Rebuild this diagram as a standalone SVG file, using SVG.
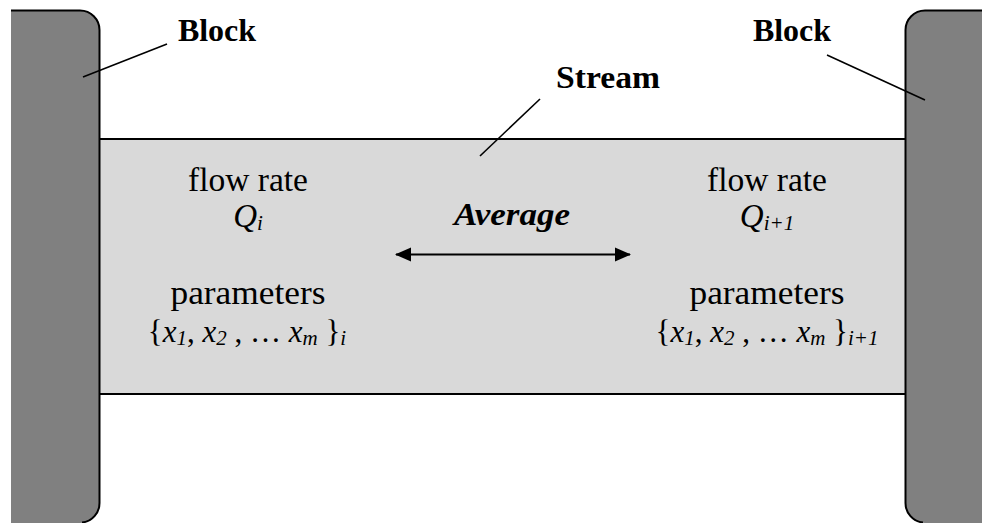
<svg xmlns="http://www.w3.org/2000/svg" width="982" height="523" viewBox="0 0 982 523">
<style>
.blk{fill:#808080;stroke:none}
.edge{fill:none;stroke:#000;stroke-width:2}
.lbl{font-family:"Liberation Serif",serif;font-size:33px;fill:#000;text-anchor:middle}
.b{font-weight:bold;font-size:32px}
.set{font-size:31px}
.it{font-style:italic}
.sub{font-size:21px;font-style:italic}
.lead{stroke:#000;stroke-width:1.6;fill:none}
</style>
<defs>
<marker id="ah" markerUnits="userSpaceOnUse" markerWidth="18" markerHeight="16" refX="15" refY="8" orient="auto-start-reverse">
<path d="M0,1 L16,8 L0,15 Z" fill="#000"/>
</marker>
</defs>
<rect width="982" height="523" fill="#fff"/>
<g id="stream">
<rect x="100" y="139" width="805" height="255" fill="#d9d9d9"/>
<line class="edge" x1="100" y1="139" x2="905" y2="139"/>
<line class="edge" x1="100" y1="394" x2="905" y2="394"/>
</g>
<g id="block-left">
<path class="blk" d="M11,10 H80 A20,20 0 0 1 100,30 V503 A20,20 0 0 1 80,523 H11 Z"/>
<path class="edge" d="M11,10.5 H80 A19.5,19.5 0 0 1 99.5,30 V503 A19.5,19.5 0 0 1 82,522.5"/>
</g>
<g id="block-right">
<path class="blk" d="M982,10 H925 A20,20 0 0 0 905,30 V503 A20,20 0 0 0 925,523 H982 Z"/>
<path class="edge" d="M982,10.5 H925 A19.5,19.5 0 0 0 905.5,30 V503 A19.5,19.5 0 0 0 923,522.5"/>
</g>
<g id="connectors">
<line class="lead" x1="83" y1="77" x2="167" y2="44"/>
<line class="lead" x1="827" y1="55" x2="925" y2="100"/>
<line class="lead" x1="540" y1="99" x2="480" y2="156"/>
<line stroke="#000" stroke-width="2.2" x1="396" y1="254.5" x2="630" y2="254.5" marker-start="url(#ah)" marker-end="url(#ah)"/>
</g>
<g id="label-block-left"><text class="lbl b" x="217" y="41">Block</text></g>
<g id="label-block-right"><text class="lbl b" x="792" y="41">Block</text></g>
<g id="label-stream"><text class="lbl b" x="608" y="88" textLength="104" lengthAdjust="spacingAndGlyphs">Stream</text></g>
<g id="label-average"><text class="lbl b it" x="512" y="225" textLength="116" lengthAdjust="spacingAndGlyphs">Average</text></g>
<g id="left-values">
<text class="lbl" x="248" y="191" textLength="120" lengthAdjust="spacingAndGlyphs">flow rate</text>
<text class="lbl" x="248" y="227"><tspan class="it">Q</tspan><tspan class="sub" dy="3">i</tspan></text>
<text class="lbl" x="248" y="304" textLength="155" lengthAdjust="spacingAndGlyphs">parameters</text>
<text class="lbl set" x="247" y="342">{<tspan class="it">x</tspan><tspan class="sub" dy="3">1</tspan><tspan dy="-3">, </tspan><tspan class="it">x</tspan><tspan class="sub" dy="3">2</tspan><tspan dy="-3"> , … </tspan><tspan class="it">x</tspan><tspan class="sub" dy="3">m</tspan><tspan dy="-3"> }</tspan><tspan class="sub" dy="3">i</tspan></text>
</g>
<g id="right-values">
<text class="lbl" x="767" y="191" textLength="120" lengthAdjust="spacingAndGlyphs">flow rate</text>
<text class="lbl" x="767" y="227"><tspan class="it">Q</tspan><tspan class="sub" dy="3">i+1</tspan></text>
<text class="lbl" x="767" y="304" textLength="155" lengthAdjust="spacingAndGlyphs">parameters</text>
<text class="lbl set" x="767" y="342">{<tspan class="it">x</tspan><tspan class="sub" dy="3">1</tspan><tspan dy="-3">, </tspan><tspan class="it">x</tspan><tspan class="sub" dy="3">2</tspan><tspan dy="-3"> , … </tspan><tspan class="it">x</tspan><tspan class="sub" dy="3">m</tspan><tspan dy="-3"> }</tspan><tspan class="sub" dy="3">i+1</tspan></text>
</g>
</svg>
